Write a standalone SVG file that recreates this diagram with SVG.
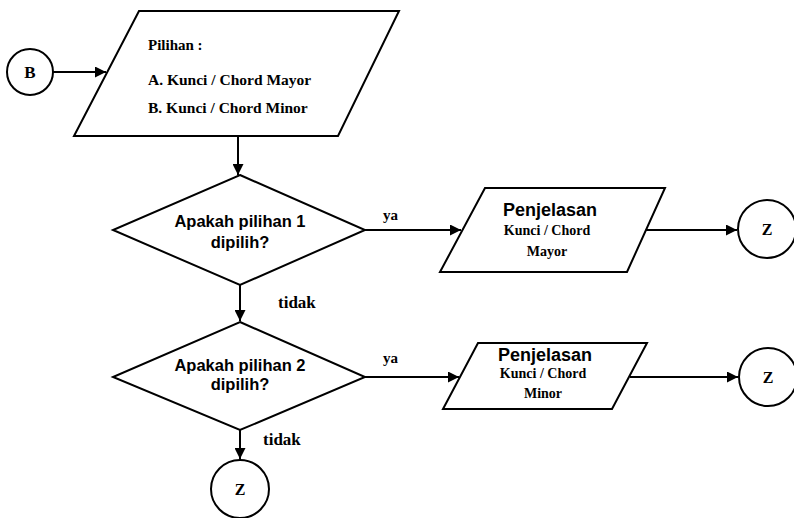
<svg xmlns="http://www.w3.org/2000/svg" width="794" height="518" viewBox="0 0 794 518">
<style>
.shape{fill:#fff;stroke:#000;stroke-width:2}
.line{fill:none;stroke:#000;stroke-width:2}
.serif{font-family:"Liberation Serif","Times New Roman",serif;font-weight:bold;fill:#000}
.sans{font-family:"Liberation Sans",Arial,sans-serif;font-weight:bold;fill:#000}
</style>
<defs>
<marker id="arr" viewBox="0 0 10 10" refX="10" refY="5" markerWidth="6" markerHeight="5.5" orient="auto" markerUnits="strokeWidth">
<path d="M0,0 L10,5 L0,10 z" fill="#000"/>
</marker>
</defs>
<rect width="794" height="518" fill="#fff"/>
<g id="connectors">
<line class="line" x1="53" y1="72" x2="106" y2="72" marker-end="url(#arr)"/>
<line class="line" x1="238" y1="136" x2="238" y2="175" marker-end="url(#arr)"/>
<line class="line" x1="365" y1="230" x2="461" y2="230" marker-end="url(#arr)"/>
<line class="line" x1="644" y1="230" x2="737" y2="230" marker-end="url(#arr)"/>
<line class="line" x1="240" y1="285" x2="240" y2="321" marker-end="url(#arr)"/>
<line class="line" x1="365" y1="377" x2="459" y2="377" marker-end="url(#arr)"/>
<line class="line" x1="630" y1="377" x2="738" y2="377" marker-end="url(#arr)"/>
<line class="line" x1="240" y1="430" x2="240" y2="459" marker-end="url(#arr)"/>
<text class="serif" x="383" y="220" font-size="15">ya</text>
<text class="serif" x="278" y="308" font-size="17">tidak</text>
<text class="serif" x="383" y="363" font-size="15">ya</text>
<text class="serif" x="263" y="445" font-size="17">tidak</text>
</g>
<g id="nodeB">
<circle class="shape" cx="30" cy="72" r="23"/>
<text class="serif" x="30" y="78" font-size="17" text-anchor="middle">B</text>
</g>
<g id="pilihan">
<polygon class="shape" points="139,11 399,11 338,136 74,136"/>
<text class="serif" x="148" y="50" font-size="15">Pilihan :</text>
<text class="serif" x="148" y="85" font-size="15.5">A. Kunci / Chord Mayor</text>
<text class="serif" x="148" y="113" font-size="15.5">B. Kunci / Chord Minor</text>
</g>
<g id="decision1">
<polygon class="shape" points="240,175 365,230 240,285 113,230"/>
<text class="sans" x="240" y="227" font-size="16.5" text-anchor="middle">Apakah pilihan 1</text>
<text class="sans" x="240" y="248" font-size="16.5" text-anchor="middle">dipilih?</text>
</g>
<g id="mayor">
<polygon class="shape" points="485,188 665,188 627,272 440,272"/>
<text class="sans" x="550" y="216" font-size="18" text-anchor="middle">Penjelasan</text>
<text class="serif" x="547" y="235" font-size="14" text-anchor="middle">Kunci / Chord</text>
<text class="serif" x="547" y="256" font-size="14" text-anchor="middle">Mayor</text>
</g>
<g id="z1">
<circle class="shape" cx="767" cy="229" r="29"/>
<text class="serif" x="767" y="235" font-size="16" text-anchor="middle">Z</text>
</g>
<g id="decision2">
<polygon class="shape" points="240,322 365,377 240,430 113,377"/>
<text class="sans" x="240" y="371" font-size="16.5" text-anchor="middle">Apakah pilihan 2</text>
<text class="sans" x="240" y="390" font-size="16.5" text-anchor="middle">dipilih?</text>
</g>
<g id="minor">
<polygon class="shape" points="478,343 647,343 612,409 443,409"/>
<text class="sans" x="545" y="361" font-size="18" text-anchor="middle">Penjelasan</text>
<text class="serif" x="543" y="378" font-size="14" text-anchor="middle">Kunci / Chord</text>
<text class="serif" x="543" y="398" font-size="14" text-anchor="middle">Minor</text>
</g>
<g id="z2">
<circle class="shape" cx="768" cy="377" r="29"/>
<text class="serif" x="768" y="383" font-size="16" text-anchor="middle">Z</text>
</g>
<g id="z3">
<circle class="shape" cx="240" cy="489" r="29"/>
<text class="serif" x="240" y="495" font-size="16" text-anchor="middle">Z</text>
</g>
</svg>
